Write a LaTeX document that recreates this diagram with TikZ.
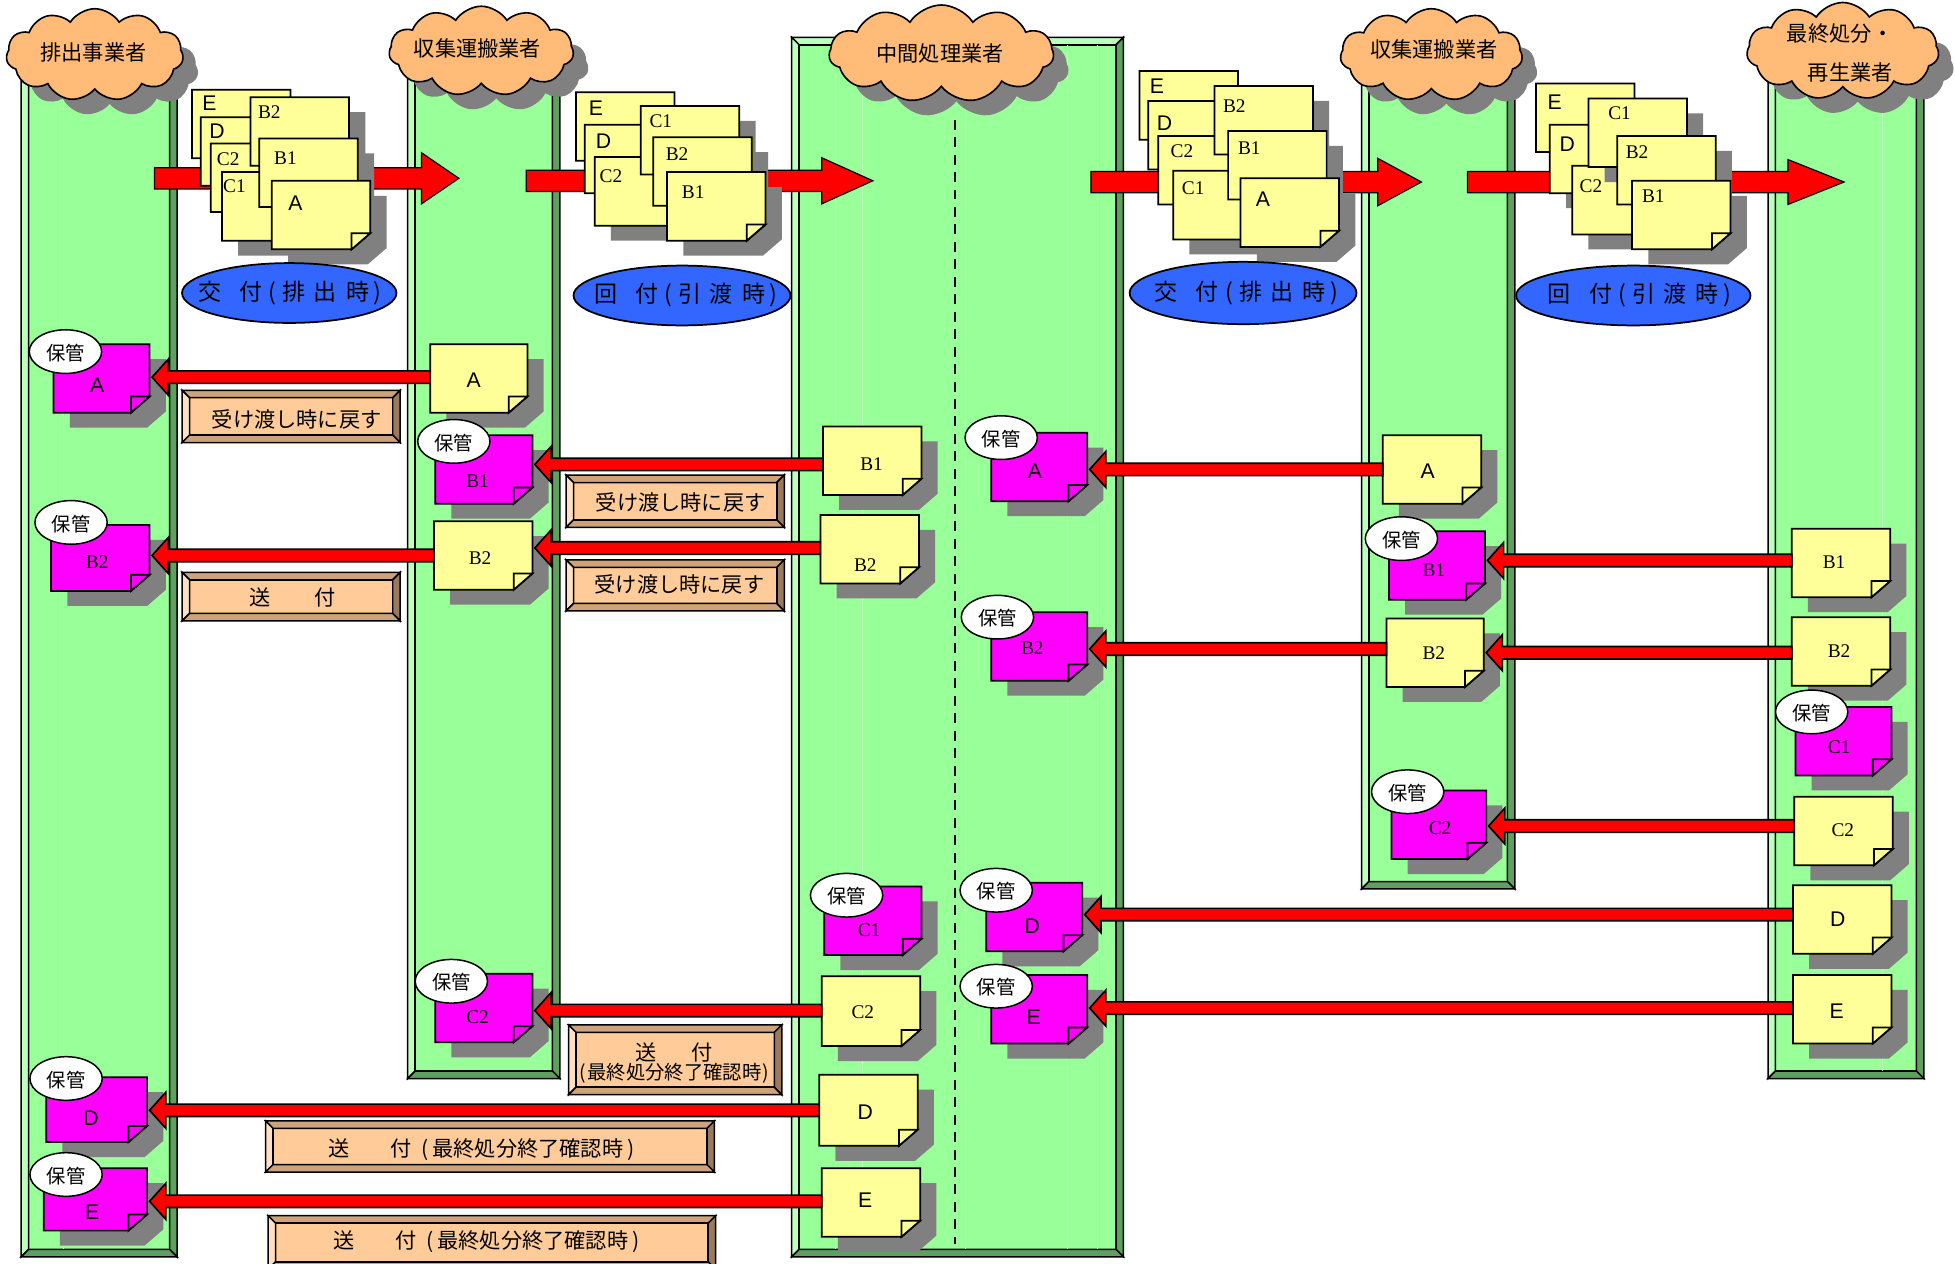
\documentclass[tikz,border=0pt]{standalone}
\usepackage{fontspec}
\setmainfont{Noto Sans CJK JP}
\newfontfamily\lsf{Liberation Sans}
\newfontfamily\lsr{Liberation Serif}
\usetikzlibrary{calc,shapes.symbols,shapes.geometric}
\definecolor{colface}{HTML}{99FF99}
\definecolor{collight}{HTML}{BDFFBD}
\definecolor{coldark}{HTML}{5F9F5F}
\definecolor{coltop}{HTML}{BDFFBD}
\definecolor{plface}{HTML}{FFCC99}
\definecolor{pltop}{HTML}{CCA37A}
\definecolor{plleft}{HTML}{FFE0C2}
\definecolor{plright}{HTML}{997A5C}
\definecolor{plbottom}{HTML}{CCA37A}
\definecolor{notey}{HTML}{FFFF99}
\definecolor{notem}{HTML}{FF00FF}
\definecolor{shadowgrey}{HTML}{808080}
\definecolor{cloudc}{HTML}{FFBB77}
\definecolor{ovalc}{HTML}{3366FF}
\tikzset{
  ol/.style={draw=black,line width=1.4pt,line join=miter},
  bv/.style={draw=black,line width=1.2pt,line join=miter},
  notetag/.style={inner sep=0pt,outer sep=0pt,rectangle,anchor=north west},
  notelabel/.style={inner sep=0pt,font=\fontsize{17}{17}\selectfont},
  keepoval/.style={ellipse,draw=black,fill=white,line width=1.2pt,inner sep=0pt},
  keeptext/.style={inner sep=0pt,font=\fontsize{15.5}{15.5}\selectfont},
  blueoval/.style={ellipse,draw=black,fill=ovalc,line width=1.4pt,inner sep=0pt},
  cloudshape/.style={cloud,cloud puffs=11,cloud puff arc=115,cloud ignores aspect,inner sep=0pt},
  cjk/.style={inner sep=0pt,font=\fontsize{17}{17}\selectfont},
  bluetext/.style={inner sep=0pt,font=\fontsize{18.5}{18.5}\selectfont},
  redarrow/.style={fill=red,draw=black,line width=1.3pt,line join=miter},
  sheen/.style={draw=collight,line width=0.5pt},
}
\newcommand\bevelbox[5]{%
  \fill[\bvface] (#1,#2) rectangle (#3,#4);
  \path[fill=\bvtop,bv] (#1,#2) -- (#3,#2) -- (#3-#5,#2+#5) -- (#1+#5,#2+#5) -- cycle;
  \path[fill=\bvleft,bv] (#1,#2) -- (#1+#5,#2+#5) -- (#1+#5,#4-#5) -- (#1,#4) -- cycle;
  \path[fill=\bvright,bv] (#3,#2) -- (#3-#5,#2+#5) -- (#3-#5,#4-#5) -- (#3,#4) -- cycle;
  \path[fill=\bvbottom,bv] (#1,#4) -- (#1+#5,#4-#5) -- (#3-#5,#4-#5) -- (#3,#4) -- cycle;
  \draw[bv] (#1+#5,#2+#5) rectangle (#3-#5,#4-#5);
}
\newcommand\columnbox[4]{%
  \def\bvface{colface}\def\bvtop{coltop}\def\bvleft{collight}\def\bvright{coldark}\def\bvbottom{coldark}%
  \bevelbox{#1}{#2}{#3}{#4}{6}}
\newcommand\plate[4]{%
  \def\bvface{plface}\def\bvtop{pltop}\def\bvleft{plleft}\def\bvright{plright}\def\bvbottom{plbottom}%
  \bevelbox{#1}{#2}{#3}{#4}{6}}
\newcommand\notesheet[9]{%
  \fill[shadowgrey] (#2+13,#3+12) -- (#2+#4+13,#3+12) -- (#2+#4+13,#3+#5-1) -- (#2+#4-2,#3+#5+12) -- (#2+13,#3+#5+12) -- cycle;
  \node[notetag,minimum width=#4pt,minimum height=#5pt] (#1) at (#2,#3) {};
  \path[fill=#6,ol] (#1.north west) -- (#1.north east) -- ($(#1.south east)+(0,-13)$) -- ($(#1.south east)+(-15,0)$) -- (#1.south west) -- cycle;
  \path[fill=#6,ol] ($(#1.south east)+(-15,0)$) -- ($(#1.south east)+(-15,-13)$) -- ($(#1.south east)+(0,-13)$) -- cycle;
  \node[notelabel] (#1t) at (#7,#8) {#9};
}
\newcommand\keep[3]{%
  \node[keepoval,minimum width=58pt,minimum height=35pt] (#1) at (#2,#3) {};
  \node[keeptext] (#1t) at (#2,#3+1) {保管};
}
\newcommand\conn[3]{%
  \path (#1.west |- 0,#3+0.5) coordinate (cs) (#2.east |- 0,#3+0.5) coordinate (ct);
  \path[redarrow] ($(ct)+(2,0)$) -- ($(ct)+(15,-14.5)$) -- ($(ct)+(15,-5)$) -- ($(cs)+(0,-5)$) -- ($(cs)+(0,5)$) -- ($(ct)+(15,5)$) -- ($(ct)+(15,14.5)$) -- cycle;
}
% big arrow: x1 xtip xhead y headhalf
\newcommand\bigarrow[5]{%
  \path[fill=red,draw=black,line width=1pt,line join=miter] (#1,#4-8.5) -- (#3,#4-8.5) -- (#3,#4-#5) -- (#2,#4) -- (#3,#4+#5) -- (#3,#4+8.5) -- (#1,#4+8.5) -- cycle;
}
\newcommand\cloudn[5]{%
  \node[cloudshape,fill=shadowgrey,minimum width=#4pt,minimum height=#5pt] (#1s) at (#2+12,#3+12) {};
  \node[cloudshape,fill=cloudc,draw=black,line width=1.3pt,minimum width=#4pt,minimum height=#5pt] (#1) at (#2,#3) {};
}
\newcommand\Ls[1]{{\lsf #1}}
\newcommand\Lr[1]{{\lsr\fontsize{15.5}{15.5}\selectfont #1}}
\newcommand\handtext[2]{#1\hspace{14.5pt}付\hspace{5pt}(\hspace{5pt}#2\hspace{3.5pt})}
\begin{document}
\begin{tikzpicture}[x=1pt,y=-1pt]
\useasboundingbox (0,0) rectangle (1568,1013);
\fill[white] (0,0) rectangle (1568,1013);
% columns
\columnbox{17}{60}{142}{1008}
\columnbox{327}{60}{449}{865}
\columnbox{635}{30}{901}{1008}
\columnbox{1092}{60}{1215}{713}
\columnbox{1418}{60}{1543}{865}
\draw[sheen] (51,66) -- (51,1002);
\draw[sheen] (670,36) -- (670,1002);
\draw[sheen] (692,36) -- (692,1002);
\draw[sheen] (774,36) -- (774,1002);
\draw[sheen] (856,36) -- (856,1002);
\draw[sheen] (880,36) -- (880,1002);
\draw[sheen] (1510,66) -- (1510,859);
\draw[black,line width=2.2pt,dash pattern=on 8pt off 6pt] (766,96) -- (766,998);
% big arrows
\bigarrow{124}{368}{338}{143}{20.5}
\bigarrow{422}{700}{659}{145}{18.5}
\bigarrow{875}{1140}{1105}{146}{19}
\bigarrow{1177}{1479}{1434}{146}{18}
% stack 1
\notesheet{aE}{154}{72}{79}{55}{notey}{168}{83}{\Ls{E}}
\notesheet{aD}{161}{94}{79}{55}{notey}{174}{105}{\Ls{D}}
\notesheet{aCb}{169}{115}{79}{55}{notey}{183}{128}{\Lr{C2}}
\notesheet{aCa}{178}{138}{79}{55}{notey}{188}{149}{\Lr{C1}}
\notesheet{aBb}{201}{78}{79}{55}{notey}{216}{90}{\Lr{B2}}
\notesheet{aBa}{208}{111}{79}{55}{notey}{229}{127}{\Lr{B1}}
\notesheet{aA}{218}{145}{79}{55}{notey}{237}{163}{\Ls{A}}
% stack 2
\notesheet{bE}{462}{74}{79}{55}{notey}{478}{87}{\Ls{E}}
\notesheet{bD}{469}{100}{79}{55}{notey}{484}{113}{\Ls{D}}
\notesheet{bCb}{477}{126}{79}{55}{notey}{490}{141}{\Lr{C2}}
\notesheet{bCa}{514}{85}{79}{55}{notey}{530}{97}{\Lr{C1}}
\notesheet{bBb}{524}{110}{79}{55}{notey}{543}{124}{\Lr{B2}}
\notesheet{bBa}{535}{138}{79}{55}{notey}{556}{154}{\Lr{B1}}
% stack 3
\notesheet{cE}{914}{57}{79}{55}{notey}{928}{69}{\Ls{E}}
\notesheet{cD}{921}{81}{79}{55}{notey}{934}{99}{\Ls{D}}
\notesheet{cCb}{929}{109}{79}{55}{notey}{948}{121}{\Lr{C2}}
\notesheet{cCa}{941}{137}{79}{55}{notey}{957}{151}{\Lr{C1}}
\notesheet{cBb}{974}{69}{79}{55}{notey}{990}{85}{\Lr{B2}}
\notesheet{cBa}{985}{105}{79}{55}{notey}{1002}{119}{\Lr{B1}}
\notesheet{cA}{995}{143}{79}{55}{notey}{1013}{160}{\Ls{A}}
% stack 4
\notesheet{dE}{1232}{67}{79}{55}{notey}{1247}{82}{\Ls{E}}
\notesheet{dD}{1243}{100}{79}{55}{notey}{1257}{116}{\Ls{D}}
\notesheet{dCb}{1261}{133}{79}{55}{notey}{1276}{149}{\Lr{C2}}
\notesheet{dCa}{1274}{79}{79}{55}{notey}{1299}{91}{\Lr{C1}}
\notesheet{dBb}{1297}{109}{79}{55}{notey}{1313}{122}{\Lr{B2}}
\notesheet{dBa}{1309}{145}{79}{55}{notey}{1326}{157}{\Lr{B1}}
% blue ovals
\node[blueoval,minimum width=172pt,minimum height=48pt] (o1) at (232,235) {};
\node[bluetext] (o1t) at (232.5,235) {\handtext{交}{排\hspace{6.5pt}出\hspace{7.5pt}時}};
\node[blueoval,minimum width=174pt,minimum height=48pt] (o2) at (547,237) {};
\node[bluetext] (o2t) at (550,237) {\handtext{回}{引\hspace{6.5pt}渡\hspace{7.5pt}時}};
\node[blueoval,minimum width=182pt,minimum height=50pt] (o3) at (997,235) {};
\node[bluetext] (o3t) at (999.5,235) {\handtext{交}{排\hspace{6.5pt}出\hspace{7.5pt}時}};
\node[blueoval,minimum width=188pt,minimum height=48pt] (o4) at (1310,237) {};
\node[bluetext] (o4t) at (1315,237) {\handtext{回}{引\hspace{6.5pt}渡\hspace{7.5pt}時}};
% clouds
\cloudn{k1}{76}{44}{142}{74}
\node[cjk] (k1t) at (75,42) {排出事業者};
\cloudn{k2}{386}{41}{148}{72}
\node[cjk] (k2t) at (383,39) {収集運搬業者};
\cloudn{k3}{755}{43}{180}{78}
\node[cjk] (k3t) at (754,43) {中間処理業者};
\cloudn{k4}{1148}{44}{146}{74}
\node[cjk] (k4t) at (1150,40) {収集運搬業者};
\cloudn{k5}{1478}{41}{154}{78}
\node[cjk,anchor=west] (k5a) at (1433,27) {最終処分\hspace{1pt}・};
\node[cjk] (k5b) at (1484,58) {再生業者};
% single notes
\notesheet{mA}{43}{276}{77}{55}{notem}{78}{309}{\Ls{A}}
\keep{ka}{52.5}{282}
\notesheet{yA}{345}{276}{78}{55}{notey}{380}{305}{\Ls{A}}
\notesheet{mBa}{349}{349}{78}{55}{notem}{383}{386}{\Lr{B1}}
\keep{kb}{364}{354}
\notesheet{mBb}{41}{421}{79}{53}{notem}{78}{451}{\Lr{B2}}
\keep{kc}{57}{419}
\notesheet{yBb}{348}{418}{79}{55}{notey}{385}{448}{\Lr{B2}}
\notesheet{yBa}{660}{342}{79}{55}{notey}{699}{372}{\Lr{B1}}
\notesheet{zBb}{658}{413}{79}{55}{notey}{694}{453}{\Lr{B2}}
\notesheet{mCb}{349}{781}{78}{55}{notem}{383}{816}{\Lr{C2}}
\keep{kd}{362}{787}
\notesheet{yCb}{659}{783}{79}{56}{notey}{692}{812}{\Lr{C2}}
\notesheet{mD}{37}{864}{81}{52}{notem}{73}{897}{\Ls{D}}
\keep{ke}{53}{865}
\notesheet{yD}{657}{862}{79}{57}{notey}{694}{892}{\Ls{D}}
\notesheet{mE}{35}{937}{83}{50}{notem}{74}{972}{\Ls{E}}
\keep{kf}{53}{942}
\notesheet{yE}{659}{937}{79}{55}{notey}{694}{963}{\Ls{E}}
\notesheet{mCa}{661}{711}{78}{55}{notem}{697}{746}{\Lr{C1}}
\keep{kg}{679}{718}
\notesheet{rmA}{795}{347}{77}{55}{notem}{830}{378}{\Ls{A}}
\keep{kh}{803}{351}
\notesheet{ryA}{1109}{349}{79}{55}{notey}{1145}{378}{\Ls{A}}
\notesheet{rmBb}{795}{491}{77}{55}{notem}{828}{520}{\Lr{B2}}
\keep{ki}{800}{495}
\notesheet{ryBb}{1112}{496}{78}{55}{notey}{1150}{524}{\Lr{B2}}
\notesheet{rmD}{791}{708}{77}{55}{notem}{828}{743}{\Ls{D}}
\keep{kj}{799}{714}
\notesheet{ryD}{1438}{710}{79}{55}{notey}{1474}{737}{\Ls{D}}
\notesheet{rmE}{795}{782}{77}{55}{notem}{829}{816}{\Ls{E}}
\keep{kk}{799}{791}
\notesheet{ryE}{1438}{782}{79}{55}{notey}{1473}{811}{\Ls{E}}
\notesheet{smBa}{1114}{426}{77}{55}{notem}{1150}{457}{\Lr{B1}}
\keep{kl}{1124}{432}
\notesheet{syBa}{1437}{424}{79}{55}{notey}{1471}{451}{\Lr{B1}}
\notesheet{syBb}{1437}{495}{79}{55}{notey}{1475}{522}{\Lr{B2}}
\notesheet{smCb}{1116}{634}{76}{55}{notem}{1155}{664}{\Lr{C2}}
\keep{km}{1129}{635}
\notesheet{syCb}{1439}{639}{79}{55}{notey}{1478}{666}{\Lr{C2}}
\notesheet{tmCa}{1440}{567}{77}{55}{notem}{1475}{599}{\Lr{C1}}
\keep{kn}{1453}{571}
% connectors
\conn{yA}{mA}{302}
\conn{yBb}{mBb}{445}
\conn{yBa}{mBa}{372}
\conn{zBb}{yBb}{439}
\conn{yCb}{mCb}{810}
\conn{yD}{mD}{890}
\conn{yE}{mE}{963}
\conn{ryA}{rmA}{376}
\conn{ryBb}{rmBb}{520}
\conn{ryD}{rmD}{733}
\conn{ryE}{rmE}{808}
\conn{syBa}{smBa}{449}
\conn{syBb}{ryBb}{523}
\conn{syCb}{smCb}{662}
% plates
\plate{146}{313}{321}{355}
\node[cjk] (p1) at (238,336) {受け渡し時に戻す};
\plate{454}{381}{629}{423}
\node[cjk] (p2) at (546,403) {受け渡し時に戻す};
\plate{454}{449}{629}{490}
\node[cjk] (p3) at (545,469) {受け渡し時に戻す};
\plate{146}{459}{321}{498}
\node[cjk] (p4) at (235,479) {送\hspace{35pt}付};
\plate{456}{822}{627}{878}
\node[cjk] (p5a) at (541,844) {送\hspace{28pt}付};
\node[cjk,font=\fontsize{15.5}{15.5}\selectfont] (p5b) at (541,861) {(\hspace{1pt}最終処分終了確認時\hspace{1pt})};
\plate{213}{899}{573}{940}
\node[cjk,anchor=west] (p6) at (263,922) {送\hspace{33pt}付\hspace{8pt}(\hspace{3pt}最終処分終了確認時\hspace{3pt})};
\plate{215}{975}{574}{1018}
\node[cjk,anchor=west] (p7) at (267,996) {送\hspace{33pt}付\hspace{8pt}(\hspace{3pt}最終処分終了確認時\hspace{3pt})};
\end{tikzpicture}
\end{document}
